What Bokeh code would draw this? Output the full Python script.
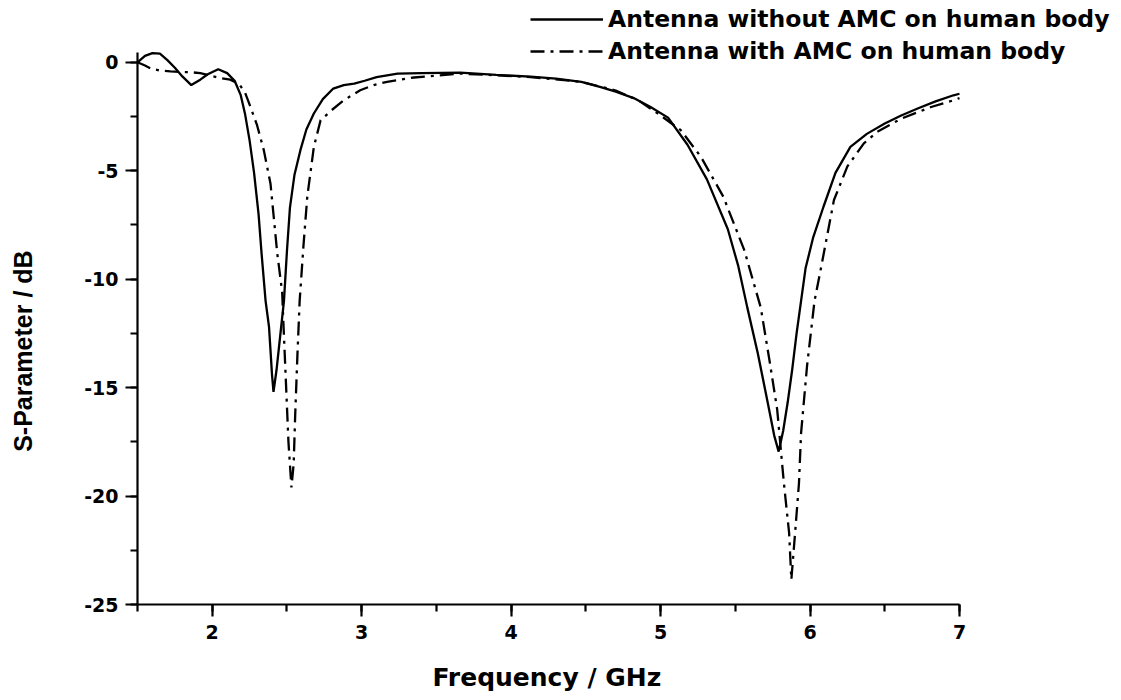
from bokeh.plotting import figure
from bokeh.models import Range1d, SingleIntervalTicker, Legend, LegendItem, PrintfTickFormatter
from bokeh.embed import file_html
from bokeh.resources import INLINE

# Antenna without AMC on human body (solid)
freq_without = [1.50, 1.55, 1.60, 1.65, 1.70, 1.75, 1.80, 1.86, 1.92, 1.97, 2.04, 2.10, 2.15, 2.19,
                2.22, 2.25, 2.28, 2.31, 2.33, 2.357, 2.38, 2.40, 2.41, 2.43, 2.455, 2.48, 2.50, 2.52,
                2.55, 2.59, 2.63, 2.68, 2.74, 2.81, 2.88, 2.95, 3.02, 3.10, 3.24, 3.40, 3.66, 3.90,
                4.13, 4.30, 4.47, 4.60, 4.70, 4.82, 4.93, 5.05, 5.18, 5.31, 5.45, 5.52, 5.58, 5.65,
                5.72, 5.76, 5.79, 5.82, 5.85, 5.88, 5.91, 5.94, 5.97, 6.02, 6.09, 6.17, 6.27, 6.38,
                6.50, 6.61, 6.72, 6.84, 6.96, 7.00]
s_without = [0.00, 0.30, 0.42, 0.40, 0.10, -0.25, -0.65, -1.05, -0.80, -0.55, -0.32, -0.50, -0.85, -1.50,
             -2.40, -3.60, -5.10, -7.00, -8.80, -11.00, -12.20, -14.40, -15.20, -14.20, -12.60, -11.00, -8.70, -6.70,
             -5.20, -4.05, -3.10, -2.36, -1.70, -1.21, -1.05, -0.98, -0.85, -0.68, -0.52, -0.50, -0.48, -0.58,
             -0.66, -0.75, -0.90, -1.14, -1.35, -1.65, -2.05, -2.55, -3.80, -5.40, -7.70, -9.40, -11.30, -13.40,
             -15.80, -17.20, -17.95, -17.00, -15.70, -14.20, -12.50, -11.00, -9.50, -8.10, -6.66, -5.10, -3.90, -3.30,
             -2.82, -2.45, -2.13, -1.80, -1.52, -1.45]

# Antenna with AMC on human body (dash-dot)
freq_with = [1.50, 1.55, 1.59, 1.65, 1.72, 1.79, 1.85, 1.92, 1.98, 2.05, 2.12, 2.18, 2.22, 2.256,
             2.30, 2.345, 2.39, 2.435, 2.468, 2.478, 2.51, 2.53, 2.545, 2.555, 2.57, 2.585, 2.61, 2.636,
             2.68, 2.725, 2.80, 2.88, 2.99, 3.08, 3.17, 3.35, 3.66, 3.90, 4.13, 4.47, 4.70, 4.85,
             4.98, 5.135, 5.27, 5.42, 5.56, 5.67, 5.73, 5.78, 5.825, 5.86, 5.875, 5.90, 5.926, 5.94,
             5.98, 6.03, 6.07, 6.16, 6.25, 6.36, 6.45, 6.61, 6.81, 6.96, 7.00]
s_with = [0.00, -0.15, -0.29, -0.38, -0.42, -0.45, -0.45, -0.50, -0.60, -0.72, -0.80, -1.00, -1.40, -2.06,
          -2.90, -4.05, -5.60, -8.80, -10.60, -12.30, -17.50, -19.60, -18.50, -16.30, -13.50, -11.00, -8.50, -6.20,
          -3.90, -2.67, -2.20, -1.75, -1.29, -1.05, -0.90, -0.70, -0.52, -0.60, -0.68, -0.90, -1.30, -1.75,
          -2.35, -3.13, -4.36, -6.20, -8.66, -11.30, -13.80, -16.00, -19.40, -21.70, -23.85, -21.70, -19.40, -17.10,
          -14.00, -11.00, -9.60, -6.35, -4.80, -3.74, -3.20, -2.60, -2.06, -1.75, -1.65]

label_without = "Antenna without AMC on human body"
label_with = "Antenna with AMC on human body"
x_title = "Frequency / GHz"
y_title = "S-Parameter / dB"

x_bounds = (1.5, 7.0)
y_bounds = (-25, 0.45)

FONT = "DejaVu Sans"
NBSP = "\u00a0"

# the frame extends beyond the axes (axis bounds) so the legend is not clipped
p = figure(width=1121, height=700, output_backend="svg", toolbar_location=None,
           x_range=Range1d(1.5, 8.084), y_range=Range1d(-25, 2.85),
           min_border_left=137, min_border_top=0, min_border_right=0, min_border_bottom=96)
p.outline_line_color = None
p.grid.visible = False
p.background_fill_color = "white"
p.border_fill_color = "white"

r1 = p.line(freq_without, s_without, line_color="black", line_width=2.3)
r2 = p.line(freq_with, s_with, line_color="black", line_width=2.3, line_dash="14 6 3 6")

p.xaxis.ticker = SingleIntervalTicker(interval=1, num_minor_ticks=2)
p.yaxis.ticker = SingleIntervalTicker(interval=5, num_minor_ticks=2)
p.yaxis.formatter = PrintfTickFormatter(format="%d")
p.xaxis.bounds = x_bounds
p.yaxis.bounds = y_bounds

for ax in (p.xaxis[0], p.yaxis[0]):
    ax.axis_line_width = 2.2
    ax.axis_line_color = "black"
    ax.major_tick_line_width = 2.2
    ax.minor_tick_line_width = 2.2
    ax.major_tick_line_color = "black"
    ax.minor_tick_line_color = "black"
    ax.major_tick_out = 12
    ax.major_tick_in = 0
    ax.minor_tick_out = 7
    ax.minor_tick_in = 0
    ax.major_label_text_font = FONT
    ax.major_label_text_font_style = "bold"
    ax.major_label_text_font_size = "19px"
    ax.major_label_text_color = "black"
    ax.axis_label_text_font_style = "bold"
    ax.axis_label_text_font_size = "25px"
    ax.axis_label_text_color = "black"

p.xaxis.major_label_standoff = 8
p.yaxis.major_label_standoff = 7

# trailing no-break spaces keep the titles where the reference has them
p.xaxis.axis_label = x_title + NBSP * 19
p.xaxis.axis_label_text_font = FONT
p.xaxis.axis_label_standoff = 21
p.yaxis.axis_label = y_title + NBSP * 14
p.yaxis.axis_label_text_font = "Liberation Sans"
p.yaxis.axis_label_standoff = 44

legend = Legend(items=[LegendItem(label=label_without, renderers=[r1]),
                       LegendItem(label=label_with, renderers=[r2])],
                location=(393, 539))
legend.border_line_color = None
legend.background_fill_alpha = 0
legend.padding = 0
legend.margin = 0
legend.spacing = 4
legend.glyph_width = 73
legend.glyph_height = 22
legend.label_height = 22
legend.label_standoff = 5
legend.label_text_font = FONT
legend.label_text_font_style = "bold"
legend.label_text_font_size = "23.5px"
legend.label_text_color = "black"
p.add_layout(legend, "center")

open("out.html", "w").write(file_html(p, INLINE))
